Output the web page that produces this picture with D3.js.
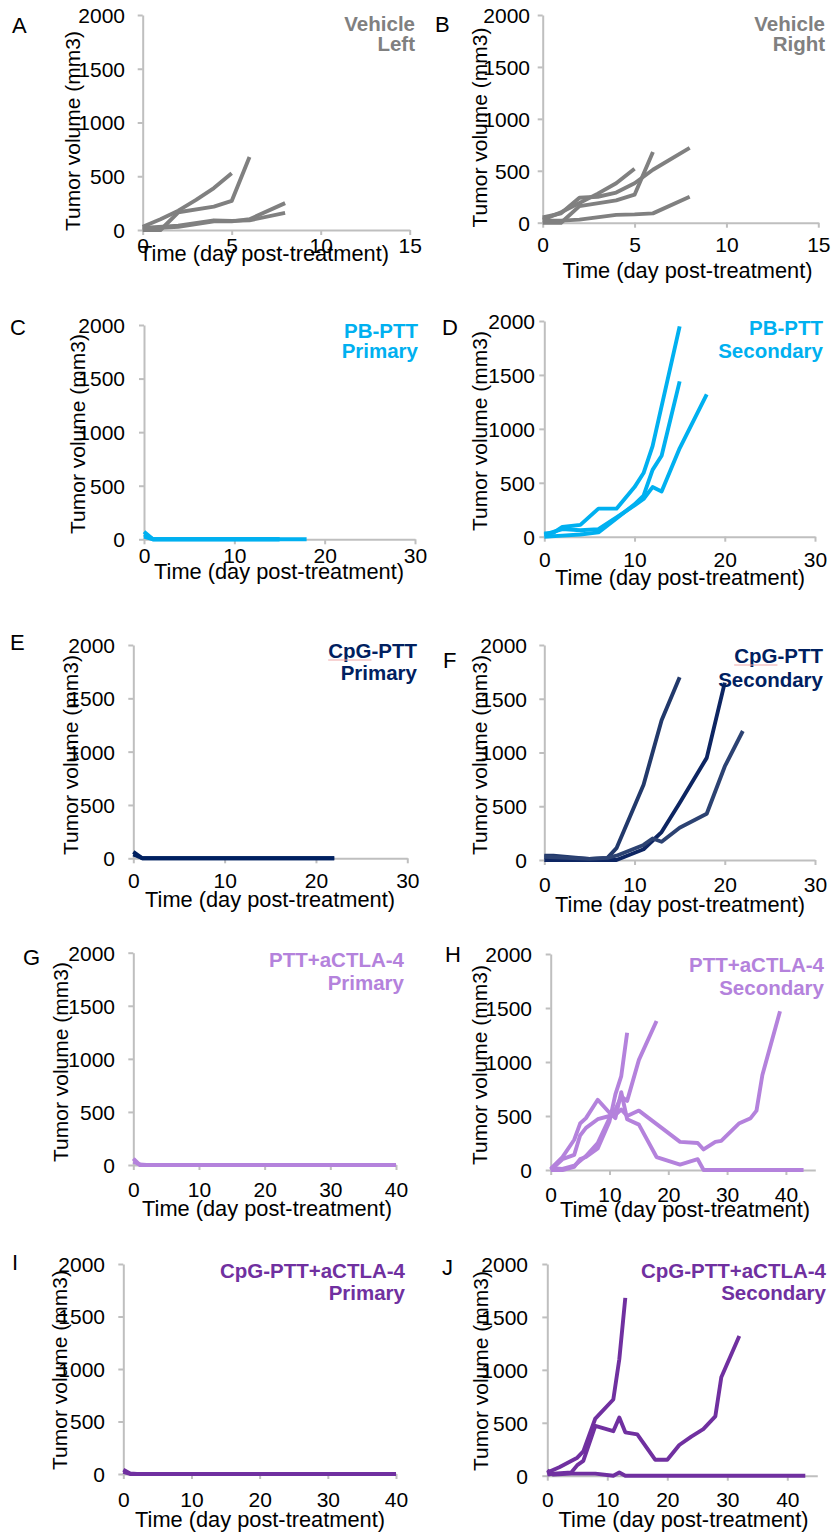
<!DOCTYPE html>
<html>
<head>
<meta charset="utf-8">
<script src="https://cdn.jsdelivr.net/npm/d3@7"></script>
<style>
  html, body { margin: 0; padding: 0; background: #fff; }
  svg { display: block; }
  text { font-family: "Liberation Sans", Arial, sans-serif; }
</style>
</head>
<body>
<svg id="chart" width="832" height="1533"></svg>
<script>
// ---------- DATA (day, tumor volume mm3) ----------
const vehicleLeft = [
  [[0,30],[1,100],[2,180],[3,280],[4,390],[5,527]],
  [[0,0],[1,0],[2,165],[4,217],[5,270],[6,680]],
  [[0,10],[1,20],[2,30],[4,80],[5,80],[6,100],[8,250]],
  [[0,20],[2,40],[4,90],[5,85],[6,90],[8,160]]
];
const vehicleRight = [
  [[0,30],[1,100],[2,190],[3,280],[4,380],[5,520]],
  [[0,0],[1,0],[2,160],[4,215],[5,270],[6,680]],
  [[0,50],[1,90],[2,240],[3,250],[4,290],[5,380],[6,510],[8,720]],
  [[0,20],[1,20],[2,30],[4,75],[5,80],[6,90],[8,250]]
];
const pbPttPrimary = [
  [[0,70],[1,0],[2,0],[4,0],[6,0],[8,0],[11,0],[13,0],[15,0],[18,0]],
  [[0,45],[1,0],[2,0],[4,0],[6,0],[8,0],[11,0],[13,0],[15,0]],
  [[0,25],[1,0],[2,0],[4,0],[6,0],[8,0],[11,0],[13,0],[15,0]]
];
const pbPttSecondary = [
  [[0,30],[1,35],[2,90],[4,110],[6,260],[8,260],[10,460],[11,590],[12,840],[15,1950]],
  [[0,0],[2,10],[4,20],[6,40],[8,170],[10,300],[11,380],[12,620],[13,750],[15,1440]],
  [[0,20],[2,70],[4,60],[6,70],[8,180],[10,290],[11,350],[12,460],[13,420],[15,820],[18,1320]]
];
const cpgPttPrimary = [
  [[0,60],[1,0],[2,0],[5,0],[8,0],[11,0],[13,0],[15,0],[18,0],[20,0],[22,0]],
  [[0,35],[1,0],[2,0],[5,0],[8,0],[11,0],[13,0],[15,0],[18,0],[20,0],[22,0]]
];
const cpgPttSecondary = [
  [[0,40],[1,40],[5,10],[7,20],[8,110],[11,700],[13,1300],[15,1700]],
  [[0,0],[5,0],[8,0],[11,100],[13,260],[15,530],[18,950],[20,1650]],
  [[0,30],[5,10],[7,20],[8,40],[11,140],[12,200],[13,170],[15,300],[18,430],[20,870],[22,1200]]
];
const pttCtlaPrimary = [
  [[0,60],[1,0],[2,0],[5,0],[10,0],[15,0],[20,0],[25,0],[30,0],[35,0],[40,0]],
  [[0,30],[1,5],[2,0],[5,0],[10,0],[15,0],[20,0],[25,0],[30,0],[35,0],[40,0]]
];
const pttCtlaSecondary = [
  [[0,0],[2,0],[4,30],[5,100],[6,120],[8,200],[10,450],[11,700],[12,870],[13,1270]],
  [[0,20],[2,10],[4,40],[6,130],[8,250],[10,480],[11,560],[12,680],[13,640],[15,1020],[18,1380]],
  [[0,0],[2,100],[4,140],[5,320],[6,390],[8,470],[10,500],[11,510],[12,560],[13,500],[15,550],[22,260],[25,250],[26,190],[28,260],[29,270],[32,430],[34,480],[35,550],[36,880],[39,1470]],
  [[0,10],[2,120],[4,280],[5,430],[6,480],[8,650],[10,530],[11,480],[12,720],[13,470],[15,420],[18,120],[22,50],[25,100],[26,0],[28,0],[30,0],[35,0],[40,0],[43,0]]
];
const cpgPttCtlaPrimary = [
  [[0,40],[1,5],[2,0],[5,0],[10,0],[15,0],[20,0],[25,0],[30,0],[35,0],[40,0]],
  [[0,20],[1,0],[2,0],[5,0],[10,0],[15,0],[20,0],[25,0],[30,0],[35,0],[40,0]]
];
const cpgPttCtlaSecondary = [
  [[0,30],[2,80],[5,170],[6,230],[8,540],[11,720],[12,1100],[13,1680]],
  [[0,10],[1,20],[4,30],[5,100],[6,140],[8,470],[11,420],[12,550],[13,410],[15,390],[18,150],[20,150],[22,290],[24,370],[26,440],[28,560],[29,930],[32,1320]],
  [[0,50],[1,10],[4,20],[8,20],[11,0],[12,30],[13,0],[15,0],[20,0],[25,0],[30,0],[35,0],[40,0],[43,0]]
];

const yTicks = [0, 500, 1000, 1500, 2000];
const xTicks15 = [0, 5, 10, 15];
const xTicks30 = [0, 10, 20, 30];
const xTicks40 = [0, 10, 20, 30, 40];
const panelLetters = ["A","B","C","D","E","F","G","H","I","J"];
const panelTitles = [
  ["Vehicle","Left"], ["Vehicle","Right"],
  ["PB-PTT","Primary"], ["PB-PTT","Secondary"],
  ["CpG-PTT","Primary"], ["CpG-PTT","Secondary"],
  ["PTT+aCTLA-4","Primary"], ["PTT+aCTLA-4","Secondary"],
  ["CpG-PTT+aCTLA-4","Primary"], ["CpG-PTT+aCTLA-4","Secondary"]
];
const xTitle = "Time (day post-treatment)";
const yTitle = "Tumor volume (mm3)";

// ---------- STYLE / LAYOUT ----------
const GRAY = "#808080", BLUE = "#00b0f0", NAVY = "#002060", LPURP = "#b482dc", PURP = "#7030a0";
const panels = [
  {data: vehicleLeft, xmax: 15, xt: xTicks15, title: GRAY, line: [GRAY],
   x0:142.7, x1:409.7, yT:15, y0:230, yLab:125, xTickB:253, xTitleCx:264, xTitleB:261, yTitleX:80, yTitleCy:131, lx:12, lb:33, tr:415, tb1:31, tb2:51},
  {data: vehicleRight, xmax: 15, xt: xTicks15, title: GRAY, line: [GRAY],
   x0:542.7, x1:818.3, yT:15, y0:222.7, yLab:530, xTickB:252, xTitleCx:687.5, xTitleB:278, yTitleX:487, yTitleCy:127.5, lx:435, lb:32, tr:825, tb1:31, tb2:51},
  {data: pbPttPrimary, xmax: 30, xt: xTicks30, title: BLUE, line: [BLUE],
   x0:144, x1:415, yT:325, y0:539.3, yLab:125, xTickB:563, xTitleCx:279, xTitleB:579, yTitleX:85, yTitleCy:434, lx:10, lb:335, tr:418, tb1:338, tb2:358},
  {data: pbPttSecondary, xmax: 30, xt: xTicks30, title: BLUE, line: [BLUE],
   x0:544.3, x1:815, yT:321, y0:536.7, yLab:535, xTickB:567, xTitleCx:680, xTitleB:585, yTitleX:487, yTitleCy:431, lx:442, lb:335, tr:823, tb1:335, tb2:358},
  {data: cpgPttPrimary, xmax: 30, xt: xTicks30, title: NAVY, line: [NAVY], spell: true,
   x0:133.3, x1:407.3, yT:645, y0:858.3, yLab:115, xTickB:888, xTitleCx:270, xTitleB:907, yTitleX:78, yTitleCy:755, lx:10, lb:650, tr:417, tb1:658, tb2:680},
  {data: cpgPttSecondary, xmax: 30, xt: xTicks30, title: NAVY, line: ["#22396b","#0d2562","#2c4272"], spell: true,
   x0:544.3, x1:815, yT:645, y0:860, yLab:527, xTickB:892, xTitleCx:680, xTitleB:912, yTitleX:487, yTitleCy:755, lx:443, lb:668, tr:823, tb1:663, tb2:687},
  {data: pttCtlaPrimary, xmax: 40, xt: xTicks40, title: LPURP, line: [LPURP],
   x0:133.3, x1:396, yT:952.7, y0:1165, yLab:115, xTickB:1197, xTitleCx:267, xTitleB:1216, yTitleX:68, yTitleCy:1062, lx:23, lb:965, tr:404, tb1:967, tb2:990},
  {data: pttCtlaSecondary, xmax: 45, xt: xTicks40, title: LPURP, line: [LPURP],
   x0:550.7, x1:815.3, yT:954, y0:1170, yLab:532, xTickB:1202, xTitleCx:685, xTitleB:1217, yTitleX:487, yTitleCy:1065, lx:445, lb:962, tr:824, tb1:972, tb2:995},
  {data: cpgPttCtlaPrimary, xmax: 40, xt: xTicks40, title: PURP, line: [PURP],
   x0:123.3, x1:396, yT:1264, y0:1474, yLab:105, xTickB:1507, xTitleCx:260, xTitleB:1527, yTitleX:67, yTitleCy:1370, lx:12, lb:1270, tr:405, tb1:1278, tb2:1300},
  {data: cpgPttCtlaSecondary, xmax: 45, xt: xTicks40, title: PURP, line: [PURP],
   x0:547.3, x1:817.3, yT:1264, y0:1475.7, yLab:528, xTickB:1507, xTitleCx:683.5, xTitleB:1527, yTitleX:488, yTitleCy:1371, lx:442, lb:1275, tr:826, tb1:1278, tb2:1300}
];

const svg = d3.select("#chart");
const AXIS = "#bfbfbf";
const FS = 21;
const FT = 21.8;

panels.forEach((p, i) => {
  const g = svg.append("g");
  const x = d3.scaleLinear().domain([0, p.xmax]).range([p.x0, p.x1]);
  const y = d3.scaleLinear().domain([0, 2000]).range([p.y0, p.yT]);

  // y axis
  const ya = g.append("g").attr("transform", `translate(${p.x0},0)`)
    .call(d3.axisLeft(y).tickValues(yTicks).tickSize(5).tickSizeOuter(0).tickFormat(d3.format("d")));
  ya.select(".domain").attr("stroke", AXIS).attr("stroke-width", 2);
  ya.selectAll(".tick line").attr("stroke", AXIS).attr("stroke-width", 2);
  ya.selectAll(".tick text").attr("x", p.yLab - p.x0).attr("dy", "0.35em")
    .attr("fill", "#000").style("font-size", FS + "px").style("font-family", '"Liberation Sans", Arial, sans-serif');

  // x axis
  const xa = g.append("g").attr("transform", `translate(0,${p.y0})`)
    .call(d3.axisBottom(x).tickValues(p.xt).tickSize(5).tickSizeOuter(0).tickFormat(d3.format("d")));
  xa.select(".domain").attr("stroke", AXIS).attr("stroke-width", 2);
  xa.selectAll(".tick line").attr("stroke", AXIS).attr("stroke-width", 2);
  xa.selectAll(".tick text").attr("y", p.xTickB - p.y0).attr("dy", 0)
    .attr("fill", "#000").style("font-size", FS + "px").style("font-family", '"Liberation Sans", Arial, sans-serif');

  // data lines
  const line = d3.line().x(d => x(d[0])).y(d => y(d[1]));
  g.selectAll("path.series").data(p.data).enter().append("path")
    .attr("class", "series")
    .attr("d", line)
    .attr("fill", "none")
    .attr("stroke", (d, k) => p.line[k % p.line.length])
    .attr("stroke-width", 3.9)
    .attr("stroke-linejoin", "round")
    .attr("stroke-linecap", "butt");

  // axis titles
  g.append("text").attr("x", p.xTitleCx).attr("y", p.xTitleB)
    .attr("text-anchor", "middle").style("font-size", FT + "px").attr("fill", "#000").text(xTitle);
  g.append("text").attr("transform", `translate(${p.yTitleX},${p.yTitleCy}) rotate(-90)`)
    .attr("text-anchor", "middle").style("font-size", FS + "px").attr("fill", "#000").text(yTitle);

  // panel letter
  g.append("text").attr("x", p.lx).attr("y", p.lb)
    .style("font-size", "22px").attr("fill", "#000").text(panelLetters[i]);

  // panel title (two lines, bold, right-aligned)
  const t = panelTitles[i];
  const t1 = g.append("text").attr("x", p.tr).attr("y", p.tb1).attr("text-anchor", "end")
    .style("font-size", "20.5px").style("font-weight", "bold").attr("fill", p.title).text(t[0]);
  g.append("text").attr("x", p.tr).attr("y", p.tb2).attr("text-anchor", "end")
    .style("font-size", "20.5px").style("font-weight", "bold").attr("fill", p.title).text(t[1]);

  // faint spell-check underline under "CpG" as in the source image
  if (p.spell) {
    const node = t1.node();
    const total = node.getComputedTextLength();
    const sub = node.getSubStringLength(0, 3);
    const sx = p.tr - total;
    g.append("line").attr("x1", sx).attr("x2", sx + sub)
      .attr("y1", p.tb1 + 2).attr("y2", p.tb1 + 2)
      .attr("stroke", "#f0a8a8").attr("stroke-width", 1);
  }
});
</script>
</body>
</html>
